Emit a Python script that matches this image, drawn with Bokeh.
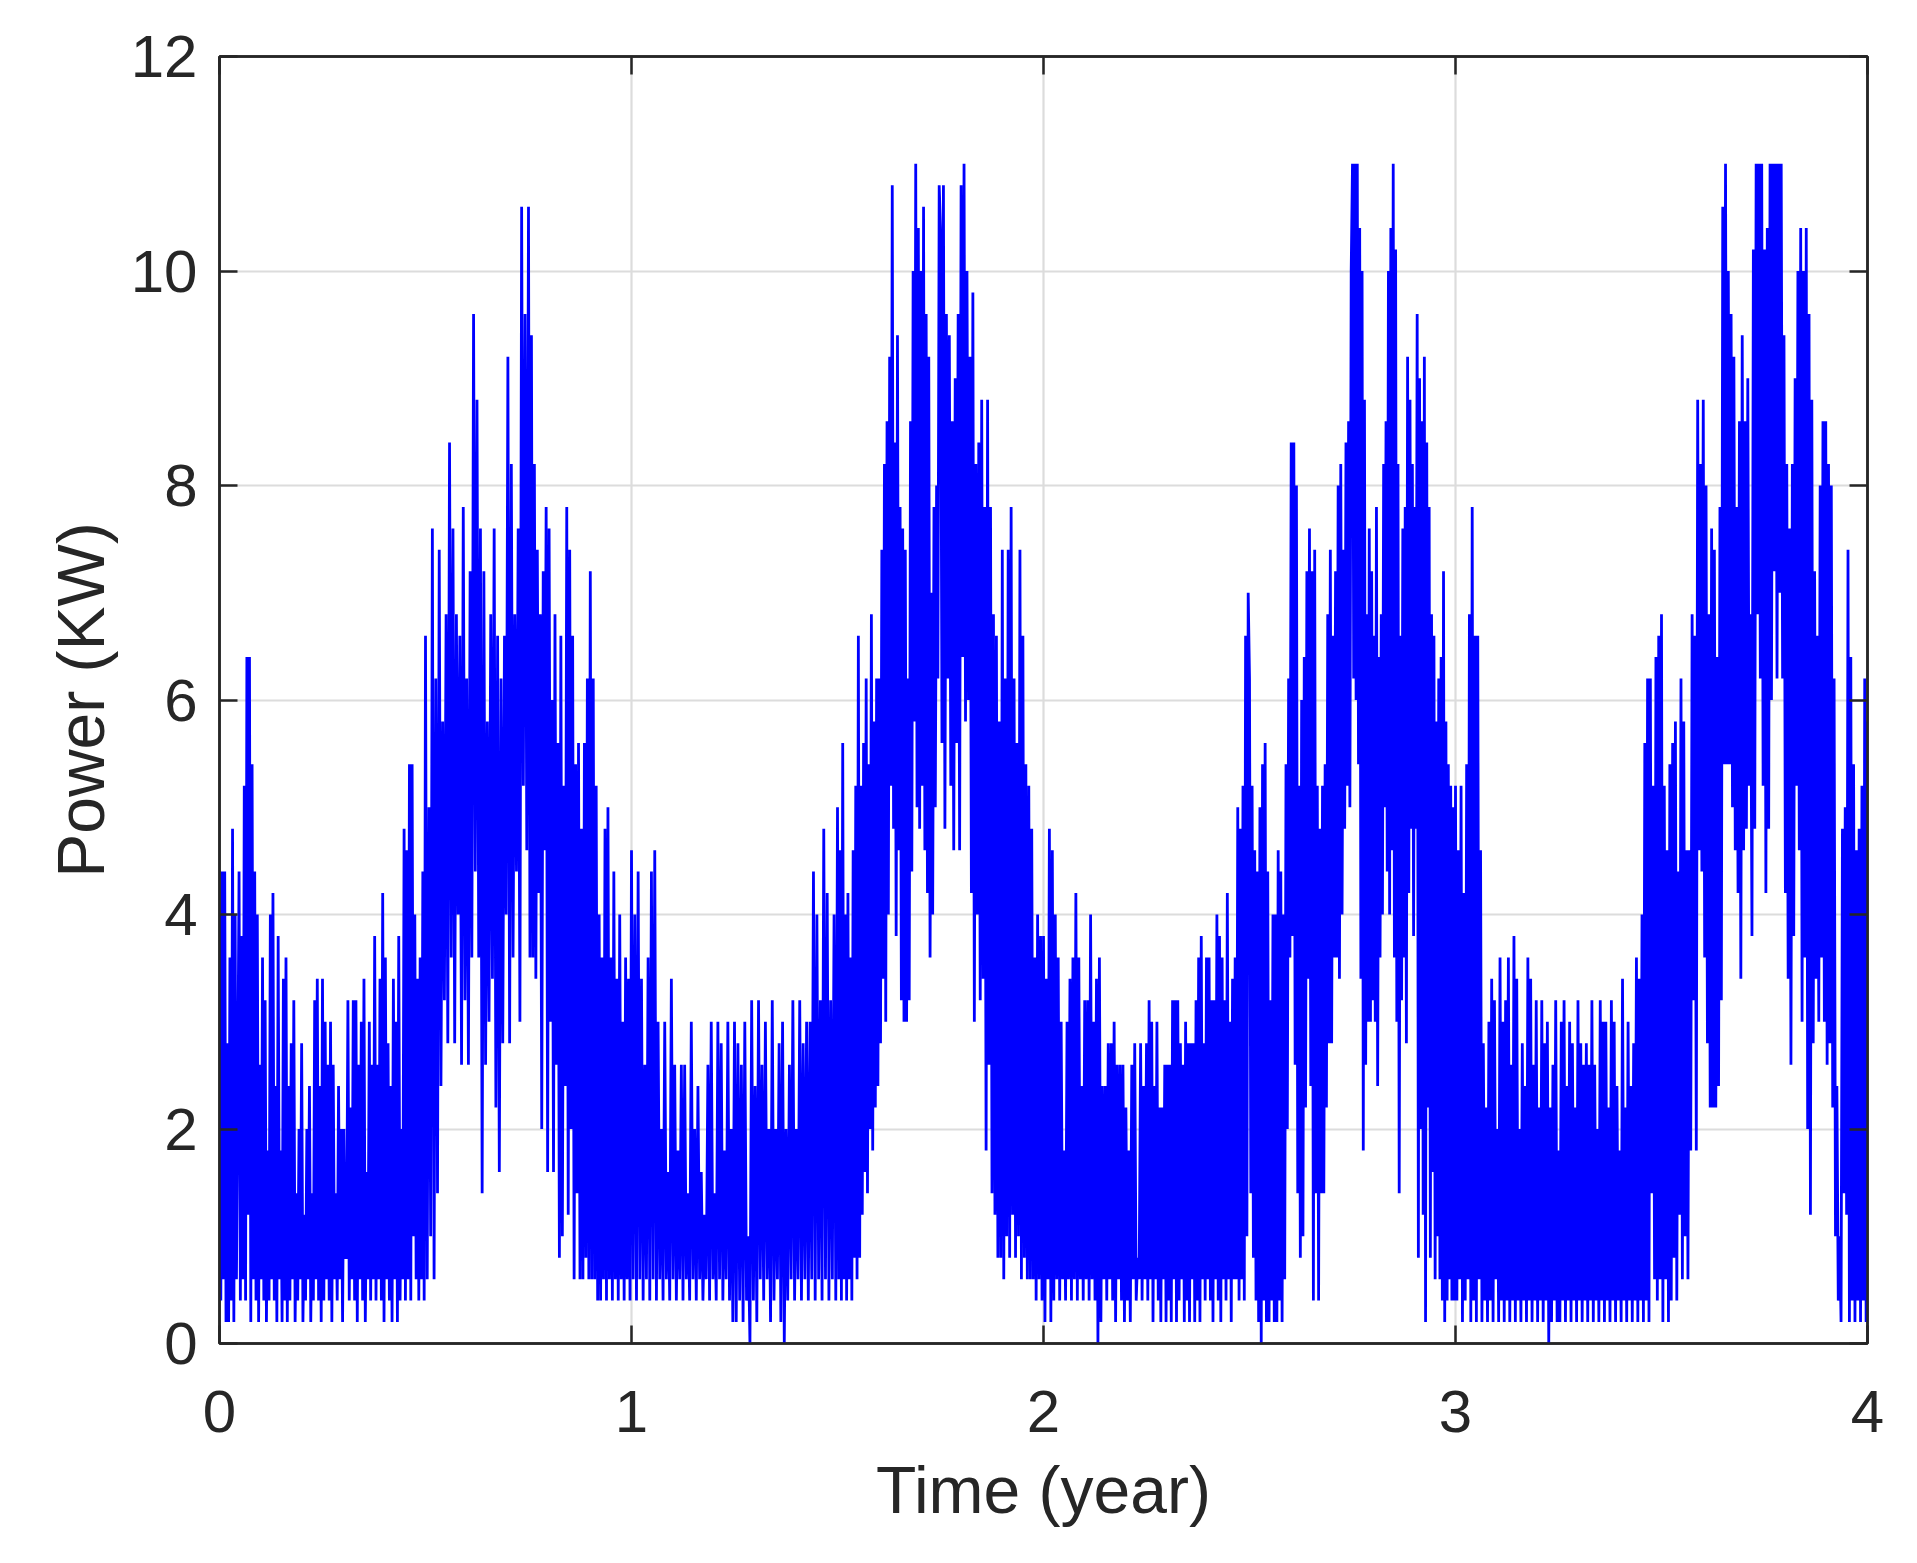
import numpy as np
from bokeh.plotting import figure
from bokeh.models import Range1d, FixedTicker, LinearAxis
from bokeh.embed import file_html
from bokeh.resources import INLINE

# ---- data: power (KW), read quarter-year by quarter-year ----
year1_q1 = [4.0, 0.4, 4.4, 0.6, 4.4, 0.2, 2.8, 0.2, 3.6, 0.4, 4.8, 0.2, 4.0, 0.6, 2.4, 4.4, 0.4, 3.8, 0.6, 5.2,
            0.4, 6.4, 1.2, 6.4, 0.2, 5.4, 0.6, 4.4, 0.4, 4.0, 0.2, 2.6, 0.6, 3.6, 0.4, 3.2, 0.2, 1.8, 0.4, 4.0,
            0.6, 4.2, 0.4, 2.4, 0.2, 3.8, 0.6, 1.8, 0.2, 3.4, 0.4, 3.6, 0.2, 2.4, 0.4, 2.8, 0.6, 3.2, 0.2, 1.4,
            0.4, 2.0, 0.6, 2.8, 0.2, 1.2, 0.4, 2.0, 0.6, 2.4, 0.2, 1.4, 0.4, 3.2, 0.6, 3.4, 0.4, 2.4, 0.2]
year1_q2 = [3.4, 0.4, 3.0, 0.6, 2.6, 0.4, 3.0, 0.2, 2.6, 0.6, 1.4, 0.4, 2.4, 0.6, 2.0, 0.2, 2.0, 0.8, 0.8, 3.2,
            0.4, 2.2, 0.6, 3.2, 0.4, 3.2, 0.2, 2.6, 0.6, 3.0, 0.4, 3.4, 0.2, 1.6, 0.6, 3.0, 0.4, 2.6, 0.6, 3.8,
            0.4, 2.6, 0.6, 3.4, 0.4, 4.2, 0.2, 3.6, 0.6, 2.8, 0.4, 2.4, 0.2, 3.4, 0.6, 3.0, 0.2, 3.8, 0.4, 2.0,
            0.6, 4.8, 0.4, 4.6, 0.6, 5.4, 0.4, 5.4, 1.0, 4.0, 0.6, 3.4, 0.4, 3.6, 0.6, 4.4, 0.4]
year1_q3 = [6.6, 0.6, 5.0, 1.0, 7.6, 0.6, 6.2, 1.4, 7.4, 2.4, 5.8, 3.2, 6.8, 2.8, 8.4, 3.6, 7.6, 2.8, 6.8, 4.0,
            6.6, 2.6, 7.8, 3.2, 6.2, 2.6, 7.2, 3.6, 9.6, 4.4, 8.8, 3.6, 7.6, 1.4, 7.2, 2.6, 5.8, 3.0, 6.8, 3.4,
            7.6, 2.2, 6.6, 1.6, 6.2, 2.8, 6.6, 4.0, 9.2, 2.8, 8.2, 3.6, 6.8, 4.4, 7.6, 3.0, 10.6, 5.2, 9.6, 4.6]
year1_q4 = [10.6, 3.6, 9.4, 3.6, 8.2, 3.4, 7.4, 4.2, 6.8, 2.0, 7.2, 4.6, 7.8, 1.6, 7.6, 3.0, 6.0, 1.6, 6.8, 2.6,
            5.6, 0.8, 6.6, 1.0, 5.2, 2.4, 7.8, 1.2, 7.4, 2.0, 6.6, 0.6, 5.4, 1.4, 5.6, 0.6, 4.8, 0.6, 5.6, 0.8,
            6.2, 0.6, 7.2, 0.6, 6.2, 0.6, 5.2, 0.4, 4.0, 0.4, 3.6, 0.6, 4.8, 0.4, 5.0, 0.6, 3.6, 0.4, 4.4, 0.6,
            3.4, 0.4, 4.0, 0.6, 3.0, 0.4, 3.6, 0.6, 3.4, 0.4]
year2_q1 = [4.6, 0.6, 4.0, 0.4, 4.4, 0.6, 3.4, 0.4, 2.6, 0.6, 3.6, 0.4, 4.4, 0.6, 4.6, 0.4, 3.0, 0.6, 2.0, 0.4,
            3.0, 0.6, 1.6, 0.4, 3.4, 0.6, 2.6, 0.4, 1.8, 0.6, 2.6, 0.4, 2.6, 0.6, 1.4, 0.4, 3.0, 0.6, 2.0, 0.4,
            2.4, 0.6, 1.6, 0.4, 1.2, 0.6, 2.6, 0.4, 3.0, 0.6, 1.4, 0.4, 3.0, 0.6, 2.8, 0.4, 1.8, 0.6, 3.0, 0.4,
            2.0, 0.2]
year2_q2 = [3.0, 0.2, 2.8, 0.4, 2.6, 0.2, 3.0, 0.4, 1.0, 0.0, 3.2, 0.4, 2.4, 0.2, 3.2, 0.6, 2.6, 0.4, 3.0, 0.6,
            2.0, 0.2, 3.2, 0.4, 2.0, 0.6, 2.8, 0.2, 3.0, 0.0, 2.0, 0.4, 2.6, 0.6, 3.2, 0.4, 2.0, 0.6, 3.2, 0.4,
            2.8, 0.6, 3.0, 0.4, 3.0, 0.6, 4.4, 0.4, 4.0, 0.6, 3.2, 0.4, 4.8, 0.6, 4.2, 0.4, 3.2, 0.6, 4.0, 0.4]
year2_q3 = [5.0, 0.6, 4.6, 0.4, 5.6, 0.6, 4.0, 0.4, 4.2, 0.6, 3.6, 0.4, 4.6, 0.8, 5.2, 0.6, 6.6, 0.8, 5.2, 1.2,
            5.6, 1.6, 6.2, 1.4, 5.4, 2.0, 6.8, 1.8, 5.8, 2.2, 6.2, 2.4, 6.2, 2.8, 7.4, 3.4, 8.2, 3.0, 8.6, 4.0,
            9.2, 5.2, 10.8, 4.8, 8.4, 3.8, 9.4, 4.6, 7.8, 3.2, 7.6, 3.0, 7.4, 3.0, 6.2, 3.2, 8.6, 4.4, 10.0, 5.8,
            11.0, 5.0, 10.4, 4.8, 10.0, 5.2, 10.6, 4.6, 9.6, 4.2, 9.2, 3.6, 7.0, 4.0, 7.8, 5.0, 8.0, 6.2, 10.8]
year2_q4 = [10.4, 5.6, 10.8, 4.8, 9.6, 6.2, 9.4, 5.2, 8.6, 4.6, 9.0, 5.6, 9.6, 4.6, 10.8, 6.4, 11.0, 5.8, 10.0, 6.0,
            9.2, 4.2, 9.8, 3.0, 8.2, 4.0, 8.4, 3.2, 8.8, 3.4, 7.8, 1.8, 8.8, 2.6, 7.8, 1.4, 6.8, 1.2, 6.6, 0.8,
            5.8, 0.8, 7.4, 0.6, 6.2, 1.0, 7.4, 0.8, 7.8, 1.2, 6.2, 0.8, 5.6, 1.0, 7.4, 0.6, 6.6, 0.8, 5.4, 0.6,
            5.2, 0.6, 4.8, 0.6, 3.6, 0.4, 4.0, 0.6, 3.8, 0.4]
year3_q1 = [3.8, 0.2, 3.4, 0.6, 4.8, 0.2, 4.6, 0.4, 4.0, 0.6, 3.6, 0.4, 3.0, 0.6, 1.8, 0.4, 3.0, 0.6, 3.4, 0.4,
            3.6, 0.6, 4.2, 0.4, 3.6, 0.6, 2.4, 0.4, 3.2, 0.6, 3.2, 0.4, 4.0, 0.6, 3.0, 0.4, 3.4, 0.0, 3.6, 0.2,
            2.4, 0.6, 2.4, 0.4, 2.8, 0.6, 2.8, 0.4, 3.0, 0.2, 2.6, 0.6, 2.6, 0.4, 2.6, 0.2, 2.2, 0.4, 1.8, 0.2,
            2.6, 0.6, 2.8, 0.4, 0.8, 0.6, 2.8, 0.4, 2.4, 0.6]
year3_q2 = [2.8, 0.4, 3.2, 0.6, 3.0, 0.2, 2.4, 0.6, 3.0, 0.4, 2.2, 0.2, 2.2, 0.6, 2.6, 0.2, 2.6, 0.4, 2.6, 0.2,
            3.2, 0.6, 3.2, 0.2, 3.2, 0.4, 2.8, 0.6, 2.6, 0.2, 3.0, 0.4, 2.8, 0.2, 2.8, 0.6, 2.8, 0.2, 3.2, 0.4,
            3.6, 0.2, 3.8, 0.6, 2.8, 0.4, 3.6, 0.6, 3.6, 0.4, 3.2, 0.2, 3.2, 0.6, 4.0, 0.4, 3.8, 0.2, 3.6, 0.6,
            3.2, 0.4, 4.2, 0.6, 3.0, 0.2, 3.4, 0.6, 3.6, 0.6, 5.0, 0.4, 4.8, 0.6, 5.2, 0.4, 6.6, 1.0, 7.0]
year3_q3 = [6.2, 1.4, 5.2, 0.8, 4.6, 0.4, 4.4, 0.2, 5.0, 0.0, 5.4, 0.4, 5.6, 0.2, 4.4, 0.2, 3.2, 0.4, 4.0, 0.2,
            4.0, 0.2, 4.6, 0.4, 4.4, 0.2, 4.0, 0.6, 5.4, 2.0, 6.2, 3.6, 8.4, 3.8, 8.4, 2.6, 8.0, 1.4, 5.2, 0.8,
            6.0, 1.0, 6.4, 2.2, 7.2, 3.4, 7.6, 2.4, 7.2, 0.4, 7.4, 1.4, 5.2, 0.4, 4.8, 1.4, 5.2, 1.4, 5.4, 2.2,
            6.8, 2.8, 7.4, 2.8, 6.6, 3.6, 7.2, 3.6, 8.0, 3.4, 8.2, 4.0, 7.4, 4.8, 8.4, 5.2, 8.6, 5.0, 10.0]
year3_q4 = [11.0, 6.2, 11.0, 6.0, 11.0, 5.4, 10.4, 3.4, 10.0, 1.8, 8.8, 2.6, 6.8, 3.0, 7.6, 3.0, 7.2, 3.2, 6.6, 3.0,
            7.8, 2.4, 6.4, 3.6, 6.8, 4.0, 8.2, 5.0, 8.6, 4.4, 10.0, 4.0, 10.4, 4.6, 11.0, 3.6, 10.2, 3.0, 8.2, 1.4,
            6.6, 3.2, 7.6, 3.6, 7.8, 2.8, 9.2, 4.2, 8.8, 4.8, 8.2, 3.8, 7.8, 4.8, 9.6, 0.8, 9.0, 2.0, 8.6, 1.2,
            9.2, 0.2, 8.4, 2.2, 7.8, 0.8, 6.8, 1.6, 6.6, 0.6, 5.8, 1.0, 6.2, 0.6, 6.4, 0.4, 7.2, 0.2, 5.8, 0.4,
            5.4, 0.6, 5.2, 0.4, 5.0, 0.4]
year4_q1 = [5.2, 0.4, 4.6, 0.6, 5.2, 0.2, 4.2, 0.4, 5.4, 0.6, 6.8, 0.2, 7.8, 0.4, 6.6, 0.2, 6.6, 0.6, 4.6, 0.2,
            2.8, 0.4, 2.2, 0.2, 3.0, 0.4, 3.4, 0.2, 3.2, 0.6, 2.0, 0.2, 3.6, 0.4, 3.0, 0.2, 3.2, 0.4, 3.6, 0.2,
            2.6, 0.4, 3.8, 0.2, 3.4, 0.4, 2.0, 0.2, 2.8, 0.4, 2.4, 0.2, 3.6, 0.4, 3.4, 0.2, 2.6, 0.4, 3.2, 0.2,
            2.2, 0.4, 3.2, 0.2, 2.8, 0.4, 3.0, 0.0, 2.2, 0.2, 2.6, 0.4, 3.2, 0.2]
year4_q2 = [1.8, 0.2, 3.0, 0.4, 3.2, 0.2, 2.4, 0.4, 3.0, 0.2, 2.8, 0.4, 2.2, 0.2, 3.2, 0.4, 2.8, 0.2, 2.6, 0.4,
            2.8, 0.2, 2.6, 0.4, 3.2, 0.2, 2.6, 0.4, 2.0, 0.2, 3.2, 0.4, 3.0, 0.2, 3.0, 0.4, 2.2, 0.2, 3.2, 0.4,
            3.0, 0.2, 2.4, 0.4, 1.8, 0.2, 3.4, 0.4, 2.2, 0.2, 3.0, 0.4, 2.4, 0.2, 2.8, 0.4, 3.6, 0.2, 3.4, 0.4,
            4.0, 0.2, 5.6, 0.4, 6.2, 0.2, 6.2, 1.4, 5.2, 0.6, 6.4, 0.4, 6.6, 0.6]
year4_q3 = [6.8, 0.2, 5.2, 0.6, 4.6, 0.2, 5.4, 0.4, 5.6, 0.8, 5.8, 0.4, 4.4, 1.2, 6.2, 0.6, 5.8, 1.0, 4.6, 0.6,
            4.6, 1.8, 6.8, 3.2, 6.6, 1.8, 8.8, 4.6, 8.2, 4.4, 8.8, 3.6, 8.0, 2.8, 6.8, 2.2, 7.6, 2.2, 7.4, 2.2,
            6.4, 2.4, 7.8, 3.2, 10.6, 5.4, 11.0, 5.4, 10.0, 5.4, 9.6, 5.0, 9.2, 4.6, 7.8, 4.2, 8.6, 3.4, 9.4, 4.6,
            8.6, 4.8, 9.0, 5.2, 6.8, 3.8, 10.2, 4.8, 11.0, 6.8, 11.0, 6.2, 11.0, 5.2]
year4_q4 = [10.2, 4.2, 10.4, 4.8, 11.0, 6.0, 11.0, 7.2, 11.0, 6.2, 11.0, 7.0, 11.0, 6.2, 9.4, 4.2, 8.2, 3.4, 7.6, 2.6,
            8.2, 3.8, 9.0, 5.2, 10.0, 4.6, 10.4, 3.0, 10.0, 3.6, 10.4, 2.0, 9.6, 1.2, 8.8, 2.8, 7.2, 3.4, 6.6, 3.0,
            8.0, 3.6, 8.6, 3.0, 8.6, 2.6, 8.2, 2.8, 8.0, 2.2, 6.2, 1.0, 2.4, 0.4, 1.0, 0.2, 4.8, 1.4, 5.0, 1.2,
            7.4, 0.2, 6.4, 0.4, 5.4, 0.2, 4.6, 0.4, 4.8, 0.2, 5.2, 0.4, 6.2, 0.2, 5.8]

quarters = [year1_q1, year1_q2, year1_q3, year1_q4,
            year2_q1, year2_q2, year2_q3, year2_q4,
            year3_q1, year3_q2, year3_q3, year3_q4,
            year4_q1, year4_q2, year4_q3, year4_q4]

x_ticks = [0, 1, 2, 3, 4]
y_ticks = [0, 2, 4, 6, 8, 10, 12]
x_label = "Time (year)"
y_label = "Power (KW)"

# time of each sample: samples evenly spread inside each quarter-year
xs, ys = [], []
for k, q in enumerate(quarters):
    n = len(q)
    if k == len(quarters) - 1:
        t = np.linspace(k * 0.25, (k + 1) * 0.25, n)
    else:
        t = k * 0.25 + 0.25 * np.arange(n) / n
    xs.extend(t.tolist())
    ys.extend(q)

FONT = "Liberation Sans"
DARK = "#262626"

p = figure(frame_width=1648, frame_height=1287,
           min_border_left=219, min_border_top=56, min_border_right=30, min_border_bottom=200,
           x_range=Range1d(0, 4), y_range=Range1d(0, 12),
           output_backend="svg", toolbar_location=None,
           background_fill_color="white", border_fill_color="white")

p.line(xs, ys, line_color="#0000ff", line_width=2.8)

p.outline_line_color = DARK
p.outline_line_width = 2.5
p.outline_line_alpha = 1

for g in (p.xgrid[0], p.ygrid[0]):
    g.grid_line_color = "#dcdcdc"
    g.grid_line_width = 2.2
p.xgrid[0].ticker = FixedTicker(ticks=x_ticks)
p.ygrid[0].ticker = FixedTicker(ticks=y_ticks)

def style_axis(ax, ticks, show_labels=True):
    ax.ticker = FixedTicker(ticks=ticks)
    ax.axis_line_color = DARK
    ax.axis_line_width = 2.5
    ax.major_tick_line_color = DARK
    ax.major_tick_line_width = 2.5
    ax.major_tick_in = 18
    ax.major_tick_out = 0
    ax.minor_tick_line_color = None
    if show_labels:
        ax.major_label_text_font = FONT
        ax.major_label_text_font_size = "60px"
        ax.major_label_text_color = DARK
    else:
        ax.major_label_text_font_size = "10px"
        ax.major_label_text_color = None
        ax.major_label_standoff = 0
        ax.axis_label = None

xa = p.xaxis[0]
ya = p.yaxis[0]
style_axis(xa, x_ticks)
style_axis(ya, y_ticks)
xa.major_label_standoff = 47
ya.major_label_standoff = 22
xa.axis_label = x_label
ya.axis_label = y_label
for ax in (xa, ya):
    ax.axis_label_text_font = FONT
    ax.axis_label_text_font_size = "66px"
    ax.axis_label_text_font_style = "normal"
    ax.axis_label_text_color = DARK
xa.axis_label_standoff = 18
ya.axis_label_standoff = 10

top_ax = LinearAxis()
right_ax = LinearAxis()
style_axis(top_ax, x_ticks, show_labels=False)
style_axis(right_ax, y_ticks, show_labels=False)
p.add_layout(top_ax, "above")
p.add_layout(right_ax, "right")

open("out.html", "w").write(file_html(p, INLINE))
